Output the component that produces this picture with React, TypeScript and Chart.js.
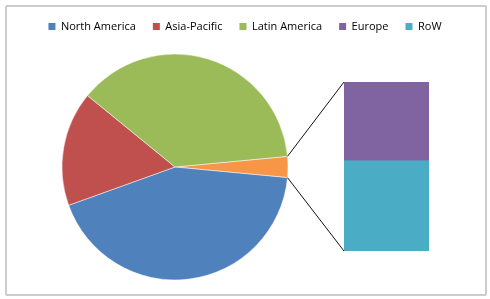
import React, { useEffect, useRef } from 'react';
import { Chart, registerables } from 'chart.js';

Chart.register(...registerables);

// ---- data ----
const barLabels = ['Europe', 'RoW'];
const barValues = [1.4, 1.6];
const barColors = ['#8064A2', '#4BACC6'];

const otherValue = barValues.reduce((a, b) => a + b, 0);
const pieLabels = ['Other', 'North America', 'Asia-Pacific', 'Latin America'];
const pieValues = [otherValue, 43.0, 16.4, 37.6];
const pieColors = ['#F79646', '#4F81BD', '#C0504D', '#9BBB59'];

const legendLabels = ['North America', 'Asia-Pacific', 'Latin America', 'Europe', 'RoW'];
const legendColors = ['#4F81BD', '#C0504D', '#9BBB59', '#8064A2', '#4BACC6'];

const W = 490;
const H = 299;
const FONT = 'Open Sans';

export default function App() {
  const pieRef = useRef<HTMLCanvasElement>(null);
  const barRef = useRef<HTMLCanvasElement>(null);

  useEffect(() => {
    document.body.style.margin = '0';
    const total = pieValues.reduce((a, b) => a + b, 0);
    const otherDeg = (pieValues[0] / total) * 360;

    const pie = new Chart(pieRef.current!, {
      type: 'pie',
      data: {
        labels: pieLabels,
        datasets: [
          {
            data: pieValues,
            backgroundColor: pieColors,
            borderColor: '#ffffff',
            borderWidth: 0.5,
          },
        ],
      },
      options: {
        responsive: false,
        animation: false,
        rotation: 90 - otherDeg / 2,
        radius: 113,
        layout: { padding: { left: 0, right: 0, top: 4, bottom: 5 } },
        events: [],
        plugins: {
          tooltip: { enabled: false },
          // spacers that place the pie in the left part of the chart
          title: {
            display: true,
            position: 'right',
            text: ' ',
            font: { size: 10, lineHeight: 1 },
            padding: { top: 0, bottom: 192 },
          },
          subtitle: {
            display: true,
            position: 'left',
            text: ' ',
            font: { size: 10, lineHeight: 1 },
            padding: { top: 0, bottom: 52 },
          },
          legend: {
            display: true,
            position: 'top',
            onClick: () => {},
            labels: {
              boxWidth: 7,
              boxHeight: 7,
              padding: 17,
              color: '#222',
              font: { family: FONT, size: 11 },
              generateLabels: () =>
                legendLabels.map((t, i) => ({
                  text: t,
                  fillStyle: legendColors[i],
                  strokeStyle: legendColors[i],
                  lineWidth: 0,
                  hidden: false,
                  index: i,
                })),
            },
          },
        },
      } as any,
    });

    // align pie centre vertically
    const ca = pie.chartArea;
    const center = (ca.top + ca.bottom) / 2;
    const pad: any = (pie.options.layout as any).padding;
    pad.bottom = Math.max(0, pad.bottom + 2 * (center - 167));
    pie.update();

    const connector = {
      id: 'connector',
      afterDatasetsDraw(chart: any) {
        const arc: any = pie.getDatasetMeta(0).data[0];
        if (!arc) return;
        const p = arc.getProps(['x', 'y', 'outerRadius', 'startAngle', 'endAngle'], true);
        const topBar: any = chart.getDatasetMeta(1).data[0];
        const botBar: any = chart.getDatasetMeta(0).data[0];
        const left = topBar.x - topBar.width / 2;
        const ctx = chart.ctx;
        ctx.save();
        ctx.strokeStyle = '#111';
        ctx.lineWidth = 1;
        ctx.beginPath();
        ctx.moveTo(p.x + p.outerRadius * Math.cos(p.startAngle), p.y + p.outerRadius * Math.sin(p.startAngle));
        ctx.lineTo(left, topBar.y);
        ctx.moveTo(p.x + p.outerRadius * Math.cos(p.endAngle), p.y + p.outerRadius * Math.sin(p.endAngle));
        ctx.lineTo(left, botBar.base);
        ctx.stroke();
        ctx.restore();
      },
    };

    const bar = new Chart(barRef.current!, {
      type: 'bar',
      data: {
        labels: ['Other'],
        datasets: [
          { label: barLabels[1], data: [barValues[1]], backgroundColor: barColors[1], borderWidth: 0 },
          { label: barLabels[0], data: [barValues[0]], backgroundColor: barColors[0], borderWidth: 0 },
        ],
      },
      options: {
        responsive: false,
        animation: false,
        events: [],
        layout: { padding: { left: 344, right: 61, top: 82, bottom: 48 } },
        datasets: { bar: { barPercentage: 1, categoryPercentage: 1 } },
        scales: {
          x: { display: false, stacked: true },
          y: { display: false, stacked: true, min: 0, max: otherValue },
        },
        plugins: { legend: { display: false }, tooltip: { enabled: false } },
      },
      plugins: [connector],
    });

    return () => {
      bar.destroy();
      pie.destroy();
    };
  }, []);

  return (
    <div style={{ position: 'relative', width: W, height: H, background: '#fff' }}>
      <div
        style={{
          position: 'absolute',
          left: 5,
          top: 5,
          width: 478,
          height: 287,
          border: '2px solid #cccccc',
          borderRadius: 2,
        }}
      />
      <canvas ref={pieRef} width={W} height={H} style={{ position: 'absolute', left: 0, top: 0 }} />
      <canvas
        ref={barRef}
        width={W}
        height={H}
        style={{ position: 'absolute', left: 0, top: 0, pointerEvents: 'none' }}
      />
    </div>
  );
}
